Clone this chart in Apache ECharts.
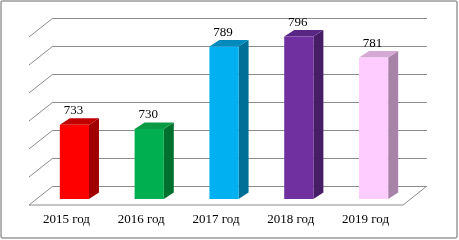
<!DOCTYPE html>
<html>
<head>
<meta charset="utf-8">
<script src="https://cdn.jsdelivr.net/npm/echarts@6/dist/echarts.min.js"></script>
<style>html,body{margin:0;padding:0;background:#fff}#c{width:459px;height:240px}</style>
</head>
<body>
<div id="c"></div>
<script>
var categories = ['2015 год', '2016 год', '2017 год', '2018 год', '2019 год'];
var values = [733, 730, 789, 796, 781];
var frontColors = ['#FF0000', '#00B050', '#00B0F0', '#7030A0', '#FFCCFF'];
var topColors = ['#C00000', '#0A9A44', '#0089BB', '#5A2686', '#D4AAD4'];
var sideColors = ['#A00000', '#00702F', '#006F98', '#461D66', '#A883A8'];
var yMin = 680, yMax = 800, yStep = 20;

var DEPTH = [-24, 19];     // floor depth (back wall -> front)
var FRONT = [-16, 13];     // bar front face offset from back wall
var BAR3D = [10, -6.5];    // bar depth
var GRID_COLOR = '#8C8C8C';

var chart = echarts.init(document.getElementById('c'), null, {renderer: 'canvas'});

function frameItem(params, api) {
  var cs = params.coordSys;
  var children = [];
  var style = {stroke: GRID_COLOR, lineWidth: 1, fill: null};
  for (var v = yMin; v <= yMax; v += yStep) {
    var y = api.coord([0, v])[1];
    children.push({type: 'line', shape: {x1: cs.x, y1: y, x2: cs.x + DEPTH[0], y2: y + DEPTH[1]}, style: style});
  }
  var by = cs.y + cs.height;
  children.push({type: 'line', shape: {x1: cs.x + DEPTH[0], y1: by + DEPTH[1], x2: cs.x + cs.width + DEPTH[0], y2: by + DEPTH[1]}, style: style});
  children.push({type: 'line', shape: {x1: cs.x + cs.width, y1: by, x2: cs.x + cs.width + DEPTH[0], y2: by + DEPTH[1]}, style: style});
  return {type: 'group', children: children};
}

function barItem(params, api) {
  var idx = api.value(0);
  var val = api.value(1);
  var top = api.coord([idx, val]);
  var bottom = api.coord([idx, yMin]);
  var w = api.size([1, 0])[0] * 0.39;
  var cx = top[0] + FRONT[0];
  var x0 = cx - w / 2, x1 = cx + w / 2;
  var yT = top[1] + FRONT[1], yB = bottom[1] + FRONT[1];
  var dx = BAR3D[0], dy = BAR3D[1];
  return {
    type: 'group',
    children: [
      {type: 'polygon', shape: {points: [[x1, yT], [x1 + dx, yT + dy], [x1 + dx, yB + dy], [x1, yB]]}, style: {fill: sideColors[idx]}},
      {type: 'polygon', shape: {points: [[x0, yT], [x0 + dx, yT + dy], [x1 + dx, yT + dy], [x1, yT]]}, style: {fill: topColors[idx]}},
      {type: 'rect', shape: {x: x0, y: yT, width: w, height: yB - yT}, style: {fill: frontColors[idx]}},
      {type: 'text', style: {text: String(val), x: cx - 1 , y: yT + dy - 1, textAlign: 'center', textVerticalAlign: 'bottom',
        fill: '#000', font: '13px "Liberation Serif", "Times New Roman", serif'}}
    ]
  };
}

chart.setOption({
  animation: false,
  grid: {left: 53, right: 32, top: 18, bottom: 54},
  graphic: [{type: 'rect', shape: {x: 1, y: 1, width: 456, height: 237, r: 2}, style: {fill: null, stroke: '#9A9A9A', lineWidth: 1.5}}],
  xAxis: {
    type: 'category', data: categories,
    axisLine: {show: false}, axisTick: {show: false},
    axisLabel: {margin: 27, color: '#000', fontFamily: '"Liberation Serif", "Times New Roman", serif', fontSize: 13, padding: [0, 48, 0, 0]}
  },
  yAxis: {
    type: 'value', min: yMin, max: yMax, interval: yStep,
    axisLabel: {show: false}, axisLine: {show: false}, axisTick: {show: false},
    splitLine: {show: true, lineStyle: {color: GRID_COLOR, width: 1}}
  },
  series: [
    {type: 'custom', renderItem: frameItem, data: [[0, yMin]], silent: true, z: 1},
    {type: 'custom', renderItem: barItem, data: values.map(function (v, i) { return [i, v]; }), z: 2}
  ]
});
</script>
</body>
</html>
